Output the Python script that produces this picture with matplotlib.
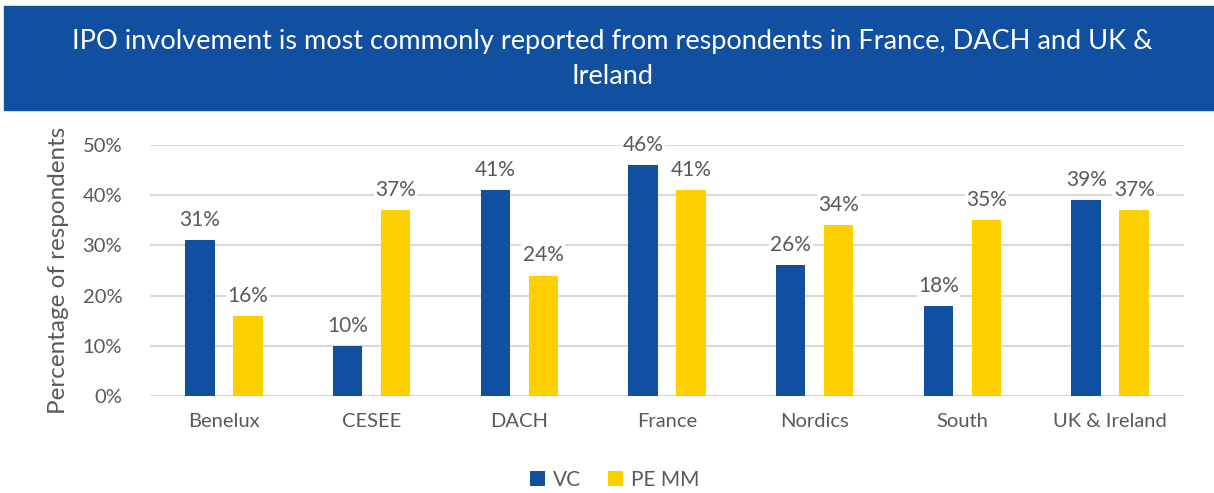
import matplotlib.pyplot as plt
from matplotlib.patches import Rectangle
import numpy as np

plt.rcParams['font.family'] = ['Lato', 'DejaVu Sans']

# data
regions = ['Benelux', 'CESEE', 'DACH', 'France', 'Nordics', 'South', 'UK & Ireland']
vc = [31, 10, 41, 46, 26, 18, 39]
pe_mm = [16, 37, 24, 41, 34, 35, 37]
y_ticks = [0, 10, 20, 30, 40, 50]

blue = '#1150A0'
yellow = '#FFD000'
grey = '#595959'

W, H = 1214, 493
fig = plt.figure(figsize=(W / 100, H / 100), dpi=100)

# title banner
fig.patches.append(Rectangle((4 / W, 1 - 110 / H), 1 - 4 / W, 104 / H,
                             transform=fig.transFigure, color=blue, zorder=0))
fig.text(612 / W, 1 - 42 / H, 'IPO involvement is most commonly reported from respondents in France, DACH and UK &',
         color='white', fontsize=19.5, ha='center', va='center')
fig.text(612 / W, 1 - 77 / H, 'Ireland', color='white', fontsize=19.5, ha='center', va='center')

ax = fig.add_axes([150 / W, 1 - 396 / H, (1184 - 150) / W, (396 - 145) / H])
x = np.arange(len(regions))
off = 0.1625
b1 = ax.bar(x - off, vc, 0.2, color=blue, label='VC', zorder=3)
b2 = ax.bar(x + off, pe_mm, 0.2, color=yellow, label='PE MM', zorder=3)
for bars, vals in ((b1, vc), (b2, pe_mm)):
    for r, v in zip(bars, vals):
        ax.text(r.get_x() + r.get_width() / 2, v + 2.0, f'{v}%', ha='center', va='bottom',
                fontsize=15, color=grey, zorder=4,
                bbox=dict(facecolor='white', edgecolor='none', pad=1))

ax.set_xlim(-0.5, len(regions) - 0.5)
ax.set_ylim(0, 50)
ax.set_yticks(y_ticks)
ax.set_yticklabels([f'{t}%' for t in y_ticks])
ax.set_xticks(x)
ax.set_xticklabels(regions)
ax.tick_params(length=0, labelsize=14.5, labelcolor=grey)
ax.tick_params(axis='y', pad=20)
ax.tick_params(axis='x', pad=12)
ax.grid(axis='y', color='#D9D9D9', linewidth=1.5, zorder=0)
for s in ax.spines.values():
    s.set_visible(False)
ax.set_ylabel('Percentage of respondents', fontsize=17.5, color=grey, labelpad=10)

fig.legend(handles=[b1, b2], loc='center', bbox_to_anchor=(615 / W, 1 - 480 / H), ncol=2,
           frameon=False, fontsize=15, labelcolor=grey, handlelength=0.7, handleheight=0.7,
           handletextpad=0.4, columnspacing=1.3)

fig.savefig('out.png', dpi=100)
